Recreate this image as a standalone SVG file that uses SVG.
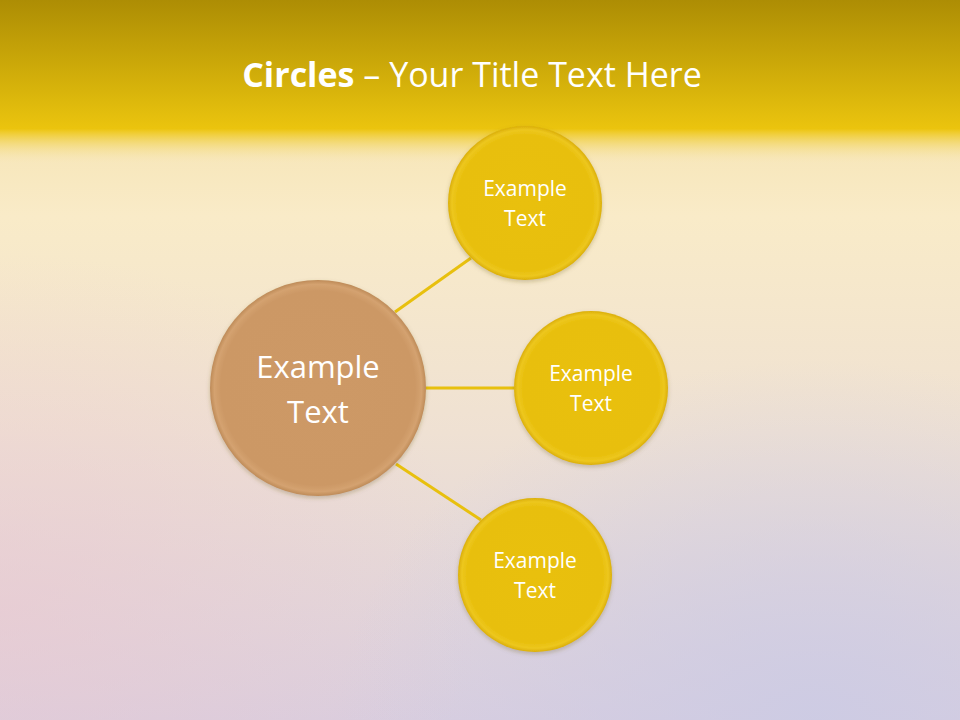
<svg xmlns="http://www.w3.org/2000/svg" width="960" height="720" viewBox="0 0 960 720">
<defs>
<linearGradient id="bg" x1="0" y1="0" x2="0" y2="1">
<stop offset="0" stop-color="#F3DC9A"/>
<stop offset="0.3" stop-color="#F9EBC8"/>
<stop offset="0.6" stop-color="#EFE1D3"/>
<stop offset="1" stop-color="#D9CEDF"/>
</linearGradient>
<radialGradient id="pink" cx="0" cy="0.85" r="0.5">
<stop offset="0" stop-color="#EBC8D0" stop-opacity="0.6"/>
<stop offset="1" stop-color="#EBC8D0" stop-opacity="0"/>
</radialGradient>
<radialGradient id="blue" cx="0.85" cy="1" r="0.5">
<stop offset="0" stop-color="#CCCBE4" stop-opacity="0.9"/>
<stop offset="1" stop-color="#CCCBE4" stop-opacity="0"/>
</radialGradient>
<linearGradient id="hdr" x1="0" y1="0" x2="0" y2="1">
<stop offset="0" stop-color="#AD8D04"/>
<stop offset="0.55" stop-color="#D8B40B"/>
<stop offset="0.78" stop-color="#EBC40E"/>
<stop offset="0.8" stop-color="#EFCB2A"/>
<stop offset="1" stop-color="#F8E8BF" stop-opacity="0"/>
</linearGradient>
<radialGradient id="yel" cx="0.5" cy="0.5" r="0.5">
<stop offset="0" stop-color="#E9C00D"/>
<stop offset="0.88" stop-color="#E8BF0C"/>
<stop offset="0.95" stop-color="#EDC71E"/>
<stop offset="1" stop-color="#DBAF0A"/>
</radialGradient>
<radialGradient id="brn" cx="0.5" cy="0.5" r="0.5">
<stop offset="0" stop-color="#CD9966"/>
<stop offset="0.9" stop-color="#CC9865"/>
<stop offset="0.96" stop-color="#D4A270"/>
<stop offset="1" stop-color="#BE8B58"/>
</radialGradient>
<filter id="sh" x="-20%" y="-20%" width="140%" height="140%">
<feDropShadow dx="0" dy="2" stdDeviation="2" flood-color="#6B5A20" flood-opacity="0.3"/>
</filter>
</defs>
<style>
.lbl{font-family:"Open Sans","Noto Sans","Liberation Sans",sans-serif;fill:#FFFFFF;text-anchor:middle}
.s{font-size:21px}
.b{font-size:31px}
.con line{stroke:#E8C00E;stroke-width:3}
</style>
<rect x="0" y="0" width="960" height="720" fill="url(#bg)"/>
<rect x="0" y="0" width="960" height="720" fill="url(#pink)"/>
<rect x="0" y="0" width="960" height="720" fill="url(#blue)"/>
<rect x="0" y="0" width="960" height="165" fill="url(#hdr)"/>
<text x="472" y="87" font-family="'Open Sans','Noto Sans',sans-serif" font-size="34" fill="#FFFFFF" text-anchor="middle"><tspan font-weight="bold">Circles</tspan> – Your Title Text Here</text>
<g class="con" id="connectors">
<line x1="395" y1="312" x2="471" y2="258"/>
<line x1="426" y1="388" x2="514" y2="388"/>
<line x1="396" y1="464" x2="481" y2="520"/>
</g>
<g id="center">
<circle cx="318" cy="388" r="108" fill="url(#brn)" filter="url(#sh)"/>
<text class="lbl b" x="318" y="378">Example</text>
<text class="lbl b" x="318" y="423">Text</text>
</g>
<g id="top">
<circle cx="525" cy="203" r="77" fill="url(#yel)" filter="url(#sh)"/>
<text class="lbl s" x="525" y="196">Example</text>
<text class="lbl s" x="525" y="226">Text</text>
</g>
<g id="mid">
<circle cx="591" cy="388" r="77" fill="url(#yel)" filter="url(#sh)"/>
<text class="lbl s" x="591" y="381">Example</text>
<text class="lbl s" x="591" y="411">Text</text>
</g>
<g id="bottom">
<circle cx="535" cy="575" r="77" fill="url(#yel)" filter="url(#sh)"/>
<text class="lbl s" x="535" y="568">Example</text>
<text class="lbl s" x="535" y="598">Text</text>
</g>
</svg>
